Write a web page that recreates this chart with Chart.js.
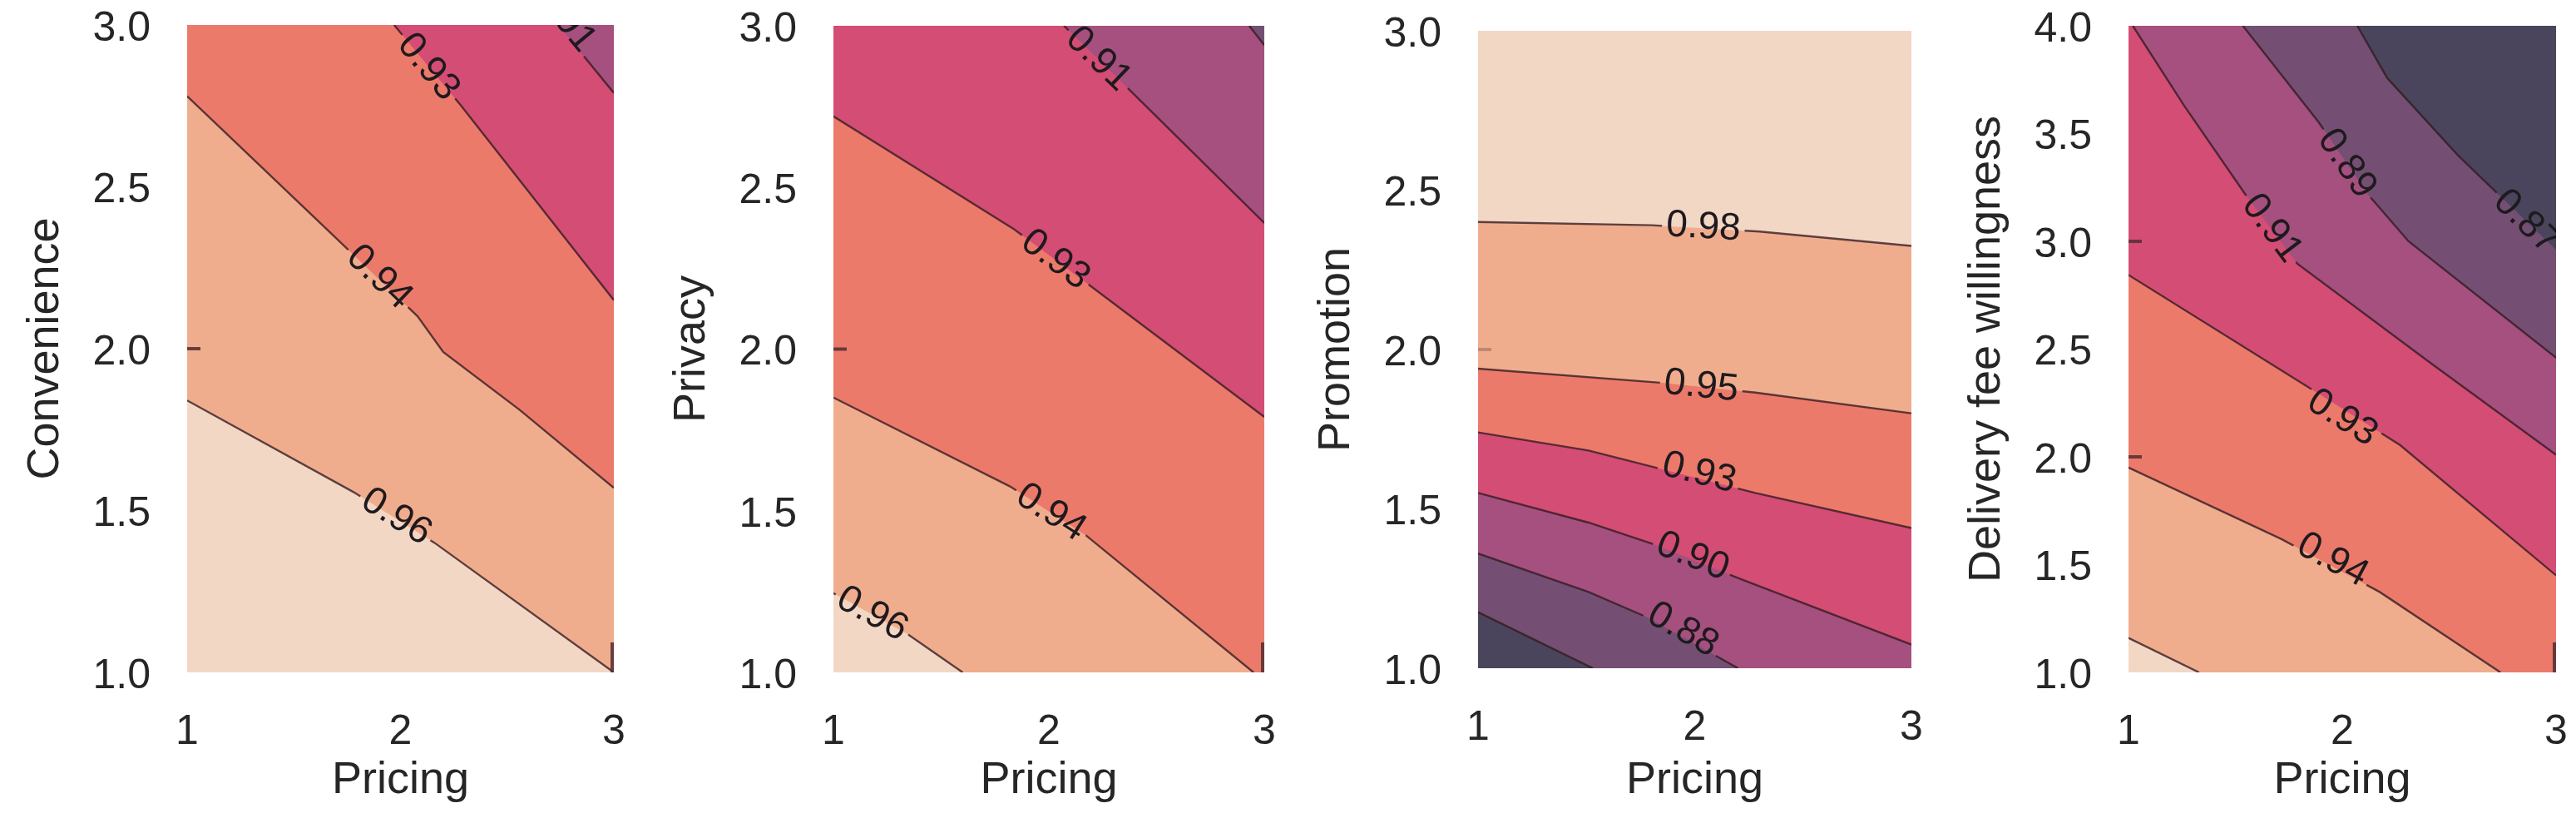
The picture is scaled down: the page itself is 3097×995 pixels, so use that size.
<!DOCTYPE html>
<html>
<head>
<meta charset="utf-8">
<script src="https://cdn.jsdelivr.net/npm/chart.js@4.4.0/dist/chart.umd.min.js"></script>
<style>
html,body{margin:0;padding:0;background:#ffffff;overflow:hidden;width:3097px;height:995px;}
canvas{position:absolute;top:0;}
</style>
</head>
<body>
<canvas id="c0"></canvas>
<canvas id="c1"></canvas>
<canvas id="c2"></canvas>
<canvas id="c3"></canvas>
<script>
// ---------------- data ----------------
const X_TITLE = 'Pricing';
const X_TICKS = [1, 2, 3];
const Y_TITLES = ['Convenience', 'Privacy', 'Promotion', 'Delivery fee willingness'];
const Y_TICKS_3 = [1.0, 1.5, 2.0, 2.5, 3.0];
const Y_TICKS_4 = [1.0, 1.5, 2.0, 2.5, 3.0, 3.5, 4.0];

// level colours, lightest -> darkest
const COLORS = ['#f2d7c5', '#f0ad8e', '#ec7a6b', '#d44d75', '#a5507f', '#744f73', '#4a455c'];

// Panel 1 : Convenience vs Pricing (darker toward top-right)
const P1_LEVELS = ['0.96', '0.94', '0.93', '0.91'];
const P1_LINES = [
  [[1, 1.84], [1.78, 1.557], [2.16, 1.40], [3, 1.0]],
  [[1, 2.78], [1.70, 2.34], [2.08, 2.10], [2.2, 1.99], [2.56, 1.81], [3, 1.57]],
  [[1.97, 3.0], [2.28, 2.754], [3, 2.15]],
  [[2.74, 3.0], [3, 2.79]]
];
const P1_LABELS = [[0, 1.98, 1.48], [1, 1.90, 2.22], [2, 2.13, 2.87], [3, 2.77, 3.02]];

// Panel 2 : Privacy vs Pricing (darker toward top-right)
const P2_LEVELS = ['0.96', '0.94', '0.93', '0.91', '0.90'];
const P2_LINES = [
  [[1, 1.245], [1.34, 1.12], [1.60, 1.0]],
  [[1, 1.85], [1.82, 1.575], [2.17, 1.425], [2.95, 1.0]],
  [[1, 2.72], [1.84, 2.37], [2.19, 2.197], [3, 1.79]],
  [[2.07, 3.0], [2.23, 2.897], [3, 2.39]],
  [[2.93, 3.0], [3, 2.94]]
];
const P2_LABELS = [[0, 1.18, 1.18], [1, 2.01, 1.494], [2, 2.03, 2.276], [3, 2.23, 2.897]];

// Panel 3 : Promotion vs Pricing (darker toward bottom-left)
const P3_LEVELS = ['0.98', '0.95', '0.93', '0.90', '0.88', '0.86'];
const P3_LINES = [
  [[1, 2.40], [1.8, 2.39], [2.3, 2.37], [3, 2.325]],
  [[1, 1.94], [1.84, 1.896], [2.28, 1.865], [3, 1.80]],
  [[1, 1.74], [1.51, 1.683], [2.28, 1.55], [3, 1.44]],
  [[1, 1.55], [1.51, 1.457], [1.82, 1.387], [2.2, 1.283], [3, 1.074]],
  [[1, 1.36], [1.51, 1.239], [1.78, 1.16], [2.2, 1.0]],
  [[1, 1.176], [1.53, 1.0]]
];
const P3_LABELS = [[0, 2.04, 2.383], [1, 2.03, 1.884], [2, 2.02, 1.612], [3, 1.99, 1.35], [4, 1.945, 1.12]];

// Panel 4 : Delivery fee willingness vs Pricing (darker toward top-right)
const P4_LEVELS = ['0.96', '0.94', '0.93', '0.91', '0.89', '0.87'];
const P4_LINES = [
  [[1, 1.16], [1.33, 1.0]],
  [[1, 1.95], [1.716, 1.618], [2.175, 1.373], [2.74, 1.0]],
  [[1, 2.844], [1.83, 2.33], [2.27, 2.055], [3, 1.45]],
  [[1.02, 4.0], [1.26, 3.63], [1.545, 3.22], [1.79, 2.896], [2.40, 2.445], [3, 2.01]],
  [[1.535, 4.0], [1.89, 3.552], [2.12, 3.218], [2.31, 3.0], [3, 2.46]],
  [[2.07, 4.0], [2.21, 3.758], [2.54, 3.40], [3, 2.96]]
];
const P4_LABELS = [[1, 1.955, 1.52], [2, 2.0, 2.18], [3, 1.67, 3.06], [4, 2.02, 3.36], [5, 2.86, 3.09]];

// small stray tick marks visible in the picture (y values of left-edge dashes)
const LEFT_DASHES = [[2.0], [2.0], [2.0], [3.0, 2.0]];
const CORNER_TICK = [true, true, false, true];

// ---------------- layout ----------------
const W = 3097, H = 995;
const Y_AXIS_W = 224, RIGHT_PAD = 22;
const PLOT_LEFT = [225, 1002, 1777, 2559];
const PLOT_W = [513, 518, 521, 514];
const PLOT_TOP = [30, 31, 37, 31];
const PLOT_BOTTOM = [808, 808, 803, 808];

const FONT = "'Liberation Sans', Arial, Helvetica, sans-serif";
const TEXT = '#262626';
const LINE_COLOR = 'rgba(50,26,32,0.78)';
const DASH_COLORS = ['rgba(90,50,52,0.9)', 'rgba(90,50,52,0.9)', 'rgba(170,120,105,0.7)', 'rgba(90,50,52,0.9)'];
const TICK_SIZE = 50, TITLE_SIZE = 54, CLABEL_SIZE = 46;

Chart.defaults.font.family = FONT;
Chart.defaults.color = TEXT;

const PANELS = [
  {levels: P1_LEVELS, lines: P1_LINES, labels: P1_LABELS, ymax: 3, yticks: Y_TICKS_3, below: false},
  {levels: P2_LEVELS, lines: P2_LINES, labels: P2_LABELS, ymax: 3, yticks: Y_TICKS_3, below: false},
  {levels: P3_LEVELS, lines: P3_LINES, labels: P3_LABELS, ymax: 3, yticks: Y_TICKS_3, below: true},
  {levels: P4_LEVELS, lines: P4_LINES, labels: P4_LABELS, ymax: 4, yticks: Y_TICKS_4, below: false}
];

// compute pixel placement and angle of every contour label
function labelGeometry(chart) {
  const opt = chart.options.plugins.contour;
  const xs = chart.scales.x, ys = chart.scales.y;
  const ctx = chart.ctx;
  ctx.save();
  ctx.font = CLABEL_SIZE + 'px ' + FONT;
  const out = opt.labels.map(([li, x, y]) => {
    const line = opt.lines[li];
    const px = xs.getPixelForValue(x), py = ys.getPixelForValue(y);
    let best = Infinity, ang = 0;
    for (let i = 0; i < line.length - 1; i++) {
      const ax = xs.getPixelForValue(line[i][0]), ay = ys.getPixelForValue(line[i][1]);
      const bx = xs.getPixelForValue(line[i + 1][0]), by = ys.getPixelForValue(line[i + 1][1]);
      const dx = bx - ax, dy = by - ay;
      const L2 = dx * dx + dy * dy || 1;
      let t = ((px - ax) * dx + (py - ay) * dy) / L2;
      t = Math.max(0, Math.min(1, t));
      const qx = ax + t * dx, qy = ay + t * dy;
      const d = (qx - px) ** 2 + (qy - py) ** 2;
      if (d < best) { best = d; ang = Math.atan2(dy, dx); }
    }
    if (ang > Math.PI / 2) ang -= Math.PI;
    if (ang < -Math.PI / 2) ang += Math.PI;
    const text = opt.levels[li];
    return {li, px, py, ang, text, w: ctx.measureText(text).width};
  });
  ctx.restore();
  return out;
}

const contourPlugin = {
  id: 'contour',
  beforeDatasetsDraw(chart) {
    const a = chart.chartArea, ctx = chart.ctx;
    ctx.save();
    ctx.fillStyle = COLORS[0];
    ctx.fillRect(a.left, a.top, a.right - a.left, a.bottom - a.top);
    ctx.restore();
    chart.$labels = labelGeometry(chart);
  },
  beforeDatasetDraw(chart, args) {
    const ds = chart.data.datasets[args.index];
    if (!ds.isContour) return;
    const ctx = chart.ctx, a = chart.chartArea;
    ctx.save();
    ctx.beginPath();
    ctx.rect(a.left - 10, a.top - 10, a.right - a.left + 20, a.bottom - a.top + 20);
    for (const lb of chart.$labels || []) {
      if (lb.li !== ds.lineIndex) continue;
      const hw = lb.w / 2 + 5, hh = CLABEL_SIZE * 0.6;
      const c = Math.cos(lb.ang), s = Math.sin(lb.ang);
      const pts = [[-hw, -hh], [hw, -hh], [hw, hh], [-hw, hh]].map(([u, v]) => [lb.px + u * c - v * s, lb.py + u * s + v * c]);
      ctx.moveTo(pts[0][0], pts[0][1]);
      for (let i = 1; i < 4; i++) ctx.lineTo(pts[i][0], pts[i][1]);
      ctx.closePath();
    }
    ctx.clip('evenodd');
  },
  afterDatasetDraw(chart, args) {
    const ds = chart.data.datasets[args.index];
    if (ds.isContour) chart.ctx.restore();
  },
  afterDatasetsDraw(chart) {
    const a = chart.chartArea, ctx = chart.ctx;
    const opt = chart.options.plugins.contour;
    const xs = chart.scales.x, ys = chart.scales.y;
    // stray tick marks
    ctx.save();
    ctx.strokeStyle = opt.dashColor;
    ctx.lineWidth = 4;
    for (const v of opt.dashes) {
      const y = ys.getPixelForValue(v);
      ctx.beginPath(); ctx.moveTo(a.left, y); ctx.lineTo(a.left + 16, y); ctx.stroke();
    }
    if (opt.corner) {
      const x = xs.getPixelForValue(xs.max) - 2, y = ys.getPixelForValue(ys.min);
      ctx.beginPath(); ctx.moveTo(x, y); ctx.lineTo(x, y - 36); ctx.stroke();
    }
    ctx.restore();
    // contour labels
    ctx.save();
    ctx.beginPath();
    ctx.rect(a.left, a.top, a.right - a.left, a.bottom - a.top);
    ctx.clip();
    ctx.font = CLABEL_SIZE + 'px ' + FONT;
    ctx.fillStyle = '#1e1a1e';
    ctx.textAlign = 'center';
    ctx.textBaseline = 'middle';
    for (const lb of chart.$labels || []) {
      ctx.save();
      ctx.translate(lb.px, lb.py);
      ctx.rotate(lb.ang);
      ctx.fillText(lb.text, 0, 0);
      ctx.restore();
    }
    ctx.restore();
  }
};

function buildDatasets(p) {
  const ds = [];
  const ymin = 1, xmax = 3;
  p.lines.forEach((line, k) => {
    const pts = line.map(([x, y]) => ({x, y}));
    const fillPts = pts.slice();
    const last = line[line.length - 1];
    if (!p.below && last[1] === ymin && last[0] < xmax) fillPts.push({x: xmax, y: ymin});
    ds.push({
      data: fillPts, fill: p.below ? 'start' : 'end', backgroundColor: COLORS[k + 1],
      borderWidth: 0, pointRadius: 0, tension: 0, order: 100 - k
    });
    ds.push({
      data: pts, fill: false, borderColor: LINE_COLOR, borderWidth: 2.4, pointRadius: 0,
      tension: 0, order: 0, isContour: true, lineIndex: k
    });
  });
  return ds;
}

PANELS.forEach((p, i) => {
  const canvas = document.getElementById('c' + i);
  const cw = Y_AXIS_W + PLOT_W[i] + RIGHT_PAD;
  canvas.width = cw; canvas.height = H;
  canvas.style.width = cw + 'px'; canvas.style.height = H + 'px';
  canvas.style.left = (PLOT_LEFT[i] - Y_AXIS_W) + 'px';
  const bottomH = H - PLOT_BOTTOM[i];
  new Chart(canvas, {
    type: 'line',
    data: {datasets: buildDatasets(p)},
    options: {
      responsive: false, animation: false, devicePixelRatio: 1,
      layout: {padding: {top: PLOT_TOP[i], right: RIGHT_PAD, left: 0, bottom: 0}},
      plugins: {
        legend: {display: false}, tooltip: {enabled: false},
        contour: {lines: p.lines, labels: p.labels, levels: p.levels, dashes: LEFT_DASHES[i], corner: CORNER_TICK[i], dashColor: DASH_COLORS[i]}
      },
      scales: {
        x: {
          type: 'linear', min: 1, max: 3,
          afterBuildTicks: s => { s.ticks = X_TICKS.map(v => ({value: v})); },
          ticks: {font: {size: TICK_SIZE}, color: TEXT, padding: 42, maxRotation: 0, callback: v => String(v)},
          grid: {display: false, drawTicks: false}, border: {display: false},
          title: {display: true, text: X_TITLE, font: {size: TITLE_SIZE}, color: TEXT, padding: {top: 0, bottom: 24}},
          afterFit: s => { s.height = bottomH; s.paddingLeft = 0; s.paddingRight = 0; }
        },
        y: {
          type: 'linear', min: 1, max: p.ymax,
          afterBuildTicks: s => { s.ticks = p.yticks.map(v => ({value: v})); },
          ticks: {font: {size: TICK_SIZE}, color: TEXT, padding: 44, labelOffset: 5, callback: v => Number(v).toFixed(1)},
          grid: {display: false, drawTicks: false}, border: {display: false},
          title: {display: true, text: Y_TITLES[i], font: {size: TITLE_SIZE}, color: TEXT, padding: {top: 22, bottom: 0}},
          afterFit: s => { s.width = Y_AXIS_W; s.paddingTop = 0; s.paddingBottom = 0; }
        }
      }
    },
    plugins: [contourPlugin]
  });
});
</script>
</body>
</html>
